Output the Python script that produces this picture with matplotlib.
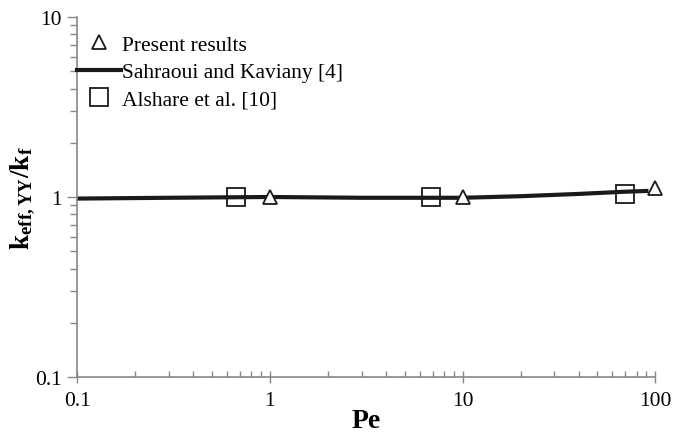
import numpy as np
import matplotlib.pyplot as plt
from matplotlib.ticker import LogLocator, NullFormatter

plt.rcParams['font.family'] = ['Liberation Serif', 'DejaVu Serif']
plt.rcParams['mathtext.fontset'] = 'custom'
plt.rcParams['mathtext.rm'] = 'Liberation Serif'
plt.rcParams['mathtext.it'] = 'Liberation Serif'
plt.rcParams['mathtext.bf'] = 'Liberation Serif:bold'

# data
pe_present = [1, 10, 100]
k_present = [1.0, 1.0, 1.12]

pe_sk = [0.1, 0.3, 1, 3, 10, 20, 40, 70, 90]
k_sk = [0.98, 0.99, 1.0, 0.99, 0.99, 1.01, 1.04, 1.07, 1.08]

pe_alshare = [0.67, 6.9, 70]
k_alshare = [1.0, 1.0, 1.04]

fig = plt.figure(figsize=(6.89, 4.39), dpi=100)
ax = fig.add_axes([0.112, 0.139, 0.839, 0.82])

ax.plot(pe_sk, k_sk, '-', color='#1a1a1a', lw=3, label='Sahraoui and Kaviany [4]', zorder=2)
ax.plot(pe_present, k_present, '^', mfc='white', mec='#1a1a1a', mew=1.3, ms=10,
        ls='none', label='Present results', zorder=3, clip_on=False)
ax.plot(pe_alshare, k_alshare, 's', mfc='none', mec='#1a1a1a', mew=1.3, ms=13,
        ls='none', label='Alshare et al. [10]', zorder=3, clip_on=False)

ax.set_xscale('log')
ax.set_yscale('log')
ax.set_xlim(0.1, 100)
ax.set_ylim(0.1, 10)
ax.set_xticks([0.1, 1, 10, 100])
ax.set_xticklabels(['0.1', '1', '10', '100'])
ax.set_yticks([0.1, 1, 10])
ax.set_yticklabels(['0.1', '1', '10'])
ax.xaxis.set_minor_locator(LogLocator(base=10, subs=np.arange(2, 10)))
ax.yaxis.set_minor_locator(LogLocator(base=10, subs=np.arange(2, 10)))
ax.xaxis.set_minor_formatter(NullFormatter())
ax.yaxis.set_minor_formatter(NullFormatter())

for s in ['top', 'right']:
    ax.spines[s].set_visible(False)
for s in ['left', 'bottom']:
    ax.spines[s].set_color('#888888')
    ax.spines[s].set_linewidth(1.2)
ax.tick_params(which='both', color='#888888', labelsize=15.5, width=1)
ax.tick_params(axis='y', which='both', direction='out', pad=4)
ax.tick_params(axis='y', which='major', length=7)
ax.tick_params(axis='y', which='minor', length=5)
ax.tick_params(axis='x', which='major', direction='inout', length=8, pad=6)
ax.tick_params(axis='x', which='minor', direction='in', length=4)

ax.set_xlabel('Pe', fontsize=20, fontweight='bold', labelpad=-1)
ax.set_ylabel(r'$\mathbf{k_{eff,YY}/k_f}$', fontsize=19.5)
ax.yaxis.set_label_coords(-0.07, 0.5)

h, l = ax.get_legend_handles_labels()
order = [1, 0, 2]
ax.legend([h[i] for i in order], [l[i] for i in order], loc='upper left',
          frameon=False, fontsize=15.5, handlelength=2.05, handletextpad=0.05,
          borderaxespad=0.0, labelspacing=0.35, bbox_to_anchor=(-0.016, 0.975))

fig.savefig('out.png', dpi=100)
